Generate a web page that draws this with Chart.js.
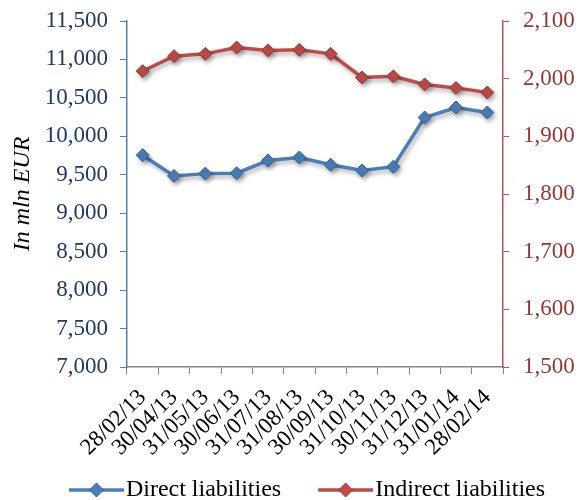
<!DOCTYPE html>
<html>
<head>
<meta charset="utf-8">
<script src="https://cdn.jsdelivr.net/npm/chart.js@4.4.0/dist/chart.umd.min.js"></script>
<style>
  html, body { margin: 0; padding: 0; background: #fff; }
  #wrap { width: 581px; height: 500px; }
</style>
</head>
<body>
<div id="wrap"><canvas id="liab" width="581" height="500"></canvas></div>
<script>
// data
const dates = ['28/02/13', '30/04/13', '31/05/13', '30/06/13', '31/07/13', '31/08/13',
  '30/09/13', '31/10/13', '30/11/13', '31/12/13', '31/01/14', '28/02/14'];
const directLiab = [9755, 9485, 9515, 9520, 9685, 9725, 9630, 9555, 9605, 10245, 10375, 10310];
const indirectLiab = [2013, 2039, 2043, 2054, 2049, 2050, 2043, 2002, 2004, 1990, 1984, 1976];
const leftTicks = [7000, 7500, 8000, 8500, 9000, 9500, 10000, 10500, 11000, 11500];
const rightTicks = [1500, 1600, 1700, 1800, 1900, 2000, 2100];

const BLUE = '#4A7EBB', BLUE_DK = '#385D8A';
const RED = '#BE4B48', RED_DK = '#8C3836';
const SERIF = '"Liberation Serif", "Times New Roman", serif';

// legend swatch: line with diamond in the middle, pushed to the right of its box
const SW_BOX = 78;
function swatch(col, dark) {
  const c = document.createElement('canvas');
  c.width = SW_BOX + 20; c.height = 18;
  const g = c.getContext('2d');
  const x0 = 43, x1 = c.width, mid = (x0 + x1) / 2;
  g.strokeStyle = col; g.lineWidth = 3.5;
  g.beginPath(); g.moveTo(x0, 9); g.lineTo(x1, 9); g.stroke();
  g.fillStyle = col; g.strokeStyle = dark; g.lineWidth = 1;
  g.beginPath(); g.moveTo(mid, 2); g.lineTo(mid + 7, 9); g.lineTo(mid, 16); g.lineTo(mid - 7, 9); g.closePath();
  g.fill(); g.stroke();
  return c;
}
const swatches = [swatch(BLUE, BLUE_DK), swatch(RED, RED_DK)];

const shadow = {
  id: 'shadow',
  beforeDatasetsDraw(chart) {
    const ctx = chart.ctx;
    ctx.save();
    ctx.shadowColor = 'rgba(0,0,0,0.3)';
    ctx.shadowBlur = 4;
    ctx.shadowOffsetX = 2;
    ctx.shadowOffsetY = 3;
  },
  afterDatasetsDraw(chart) { chart.ctx.restore(); }
};

const fmt = v => v.toLocaleString('en-US');

new Chart(document.getElementById('liab'), {
  type: 'line',
  data: {
    labels: dates,
    datasets: [{
      label: 'Direct liabilities',
      data: directLiab,
      yAxisID: 'y',
      borderColor: BLUE,
      backgroundColor: BLUE,
      pointBorderColor: BLUE_DK,
      borderWidth: 3.5,
      pointStyle: 'rectRot',
      pointRadius: 6.5,
      pointBorderWidth: 1,
      tension: 0
    }, {
      label: 'Indirect liabilities',
      data: indirectLiab,
      yAxisID: 'y2',
      borderColor: RED,
      backgroundColor: RED,
      pointBorderColor: RED_DK,
      borderWidth: 3.5,
      pointStyle: 'rectRot',
      pointRadius: 6.5,
      pointBorderWidth: 1,
      tension: 0
    }]
  },
  options: {
    responsive: false,
    animation: false,
    layout: { padding: { top: 21, left: 0, right: 0, bottom: -12 } },
    scales: {
      x: {
        offset: true,
        grid: { display: true, drawOnChartArea: false, offset: true, color: '#868686', tickLength: 7, tickColor: '#868686' },
        border: { color: '#868686', width: 1.5 },
        ticks: {
          color: '#000',
          font: { family: SERIF, size: 23 },
          minRotation: 45, maxRotation: 45,
          autoSkip: false,
          padding: 10
        },
        afterFit(s) { s.height = 107; s.paddingLeft = 0; s.paddingRight = 0; }
      },
      y: {
        position: 'left',
        min: 7000, max: 11500,
        afterBuildTicks(s) { s.ticks = leftTicks.map(v => ({ value: v })); },
        grid: { display: true, drawOnChartArea: false, color: '#4F81BD', tickLength: 7 },
        border: { color: '#4F81BD', width: 1.5 },
        ticks: { color: '#1F3864', font: { family: SERIF, size: 23 }, padding: 12, callback: v => fmt(v) },
        title: { display: true, text: 'In mln EUR', color: '#000', font: { family: SERIF, size: 24, style: 'italic' }, padding: { top: 8, bottom: 0 } },
        afterFit(s) { s.width = 127; s.paddingTop = 0; s.paddingBottom = 0; }
      },
      y2: {
        position: 'right',
        min: 1500, max: 2100,
        afterBuildTicks(s) { s.ticks = rightTicks.map(v => ({ value: v })); },
        grid: { display: true, drawOnChartArea: false, color: '#C0504D', tickLength: 6 },
        border: { color: '#C0504D', width: 1.5 },
        ticks: { color: '#953735', font: { family: SERIF, size: 23 }, padding: 14, callback: v => fmt(v) },
        afterFit(s) { s.width = 78; s.paddingTop = 0; s.paddingBottom = 0; }
      }
    },
    plugins: {
      tooltip: { enabled: false },
      legend: {
        position: 'bottom',
        labels: {
          color: '#000',
          font: { family: SERIF, size: 24 },
          usePointStyle: true,
          pointStyleWidth: SW_BOX,
          padding: 4,
          generateLabels(chart) {
            const items = Chart.defaults.plugins.legend.labels.generateLabels(chart);
            items.forEach((it, i) => { it.pointStyle = swatches[i]; });
            return items;
          }
        }
      }
    }
  },
  plugins: [shadow]
});
</script>
</body>
</html>
